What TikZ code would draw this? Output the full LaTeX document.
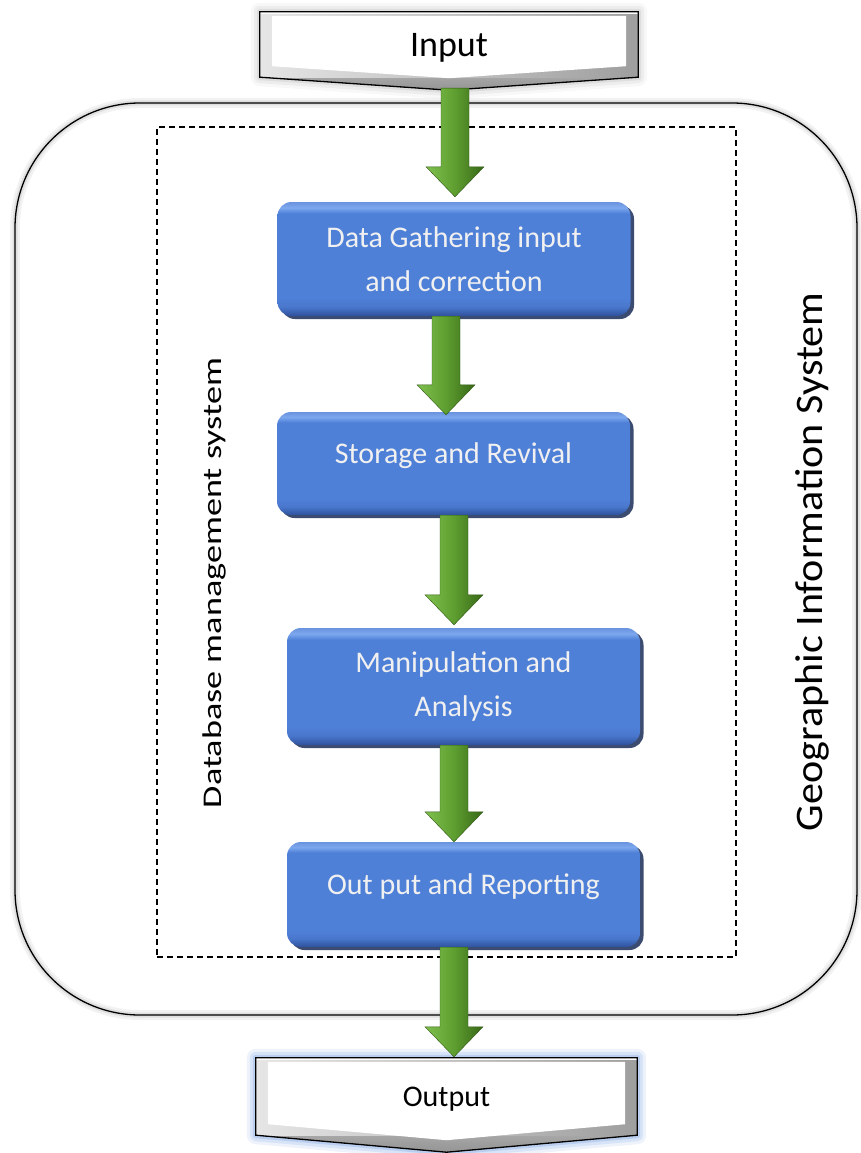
\documentclass[tikz,border=0pt]{standalone}
\usepackage{fontspec}
\setmainfont{Carlito}
\usepackage{graphicx}
\usetikzlibrary{calc,shadows}

\pgfdeclarelayer{back}
\pgfsetlayers{back,main}

\definecolor{boxblue}{HTML}{4F80D8}
\definecolor{boxbluehi}{HTML}{7DA8EE}
\definecolor{boxbluelo}{HTML}{2F519C}
\definecolor{boxbluedk}{HTML}{1A2C58}
\definecolor{arrgreenhi}{HTML}{80C04E}
\definecolor{arrgreen}{HTML}{5E9E30}
\definecolor{arrgreenlo}{HTML}{386818}
\definecolor{glowblue}{HTML}{5F8FE0}

% vertical bevel for the process boxes (path spans 25bp..75bp)
\pgfdeclareverticalshading{bluebevel}{100bp}{%
  color(0bp)=(boxbluelo); color(25bp)=(boxbluelo);
  color(29bp)=(boxblue!80!boxbluelo); color(33bp)=(boxblue);
  color(70bp)=(boxblue); color(72.5bp)=(boxbluehi);
  color(75bp)=(boxblue!85!white); color(100bp)=(boxblue)}

\tikzset{
  gisframe/.style={draw=black, line width=1.3pt, rounded corners=125pt,
    minimum width=842pt, minimum height=912pt, inner sep=0pt,
    preaction={draw=black, draw opacity=0.05, line width=10pt},
    preaction={draw=black, draw opacity=0.08, line width=5pt}},
  dbframe/.style={draw=black, line width=1.1pt, dash pattern=on 6pt off 4pt,
    minimum width=579pt, minimum height=830pt, inner sep=0pt},
  stagebox/.style={rounded corners=14pt, shading=bluebevel, minimum width=353pt,
    inner sep=0pt, text=white!94!black, align=center,
    font=\fontsize{30}{44}\selectfont,
    drop shadow={shadow xshift=3.5pt, shadow yshift=-3pt, fill=boxbluedk, opacity=0.85}},
  ioterm/.style={inner sep=0pt, text depth=0pt, text=black},
  sidelabel/.style={rotate=90, inner sep=0pt, text=black},
  arrowbody/.style={left color=arrgreenhi, right color=arrgreenlo, middle color=arrgreen,
    draw=arrgreenlo!85!black, line width=0.4pt, line join=miter},
}

% block arrow from #1 down to #2, its axis shifted by #3 from the x of #2
\newcommand\greenarrow[3]{%
  \path[arrowbody] let \p1=(#1), \p2=(#2) in
    (\x2+#3-14pt,\y1) -- (\x2+#3+14pt,\y1) -- (\x2+#3+14pt,\y2+30pt)
    -- (\x2+#3+29pt,\y2+30pt) -- (\x2+#3,\y2) -- (\x2+#3-29pt,\y2+30pt)
    -- (\x2+#3-14pt,\y2+30pt) -- cycle;
}

% bevelled off-page terminal drawn round node #1, point #2 below it,
% glow colour #3 with strength #4
\newcommand\iotermshape[4]{%
  \foreach \w/\o in {18/0.08, 12/0.12, 6/0.18} {
    \draw[#3, draw opacity=\o*#4, line width=\w pt, line join=round]
      (#1.north west) -- (#1.north east) -- (#1.south east)
      -- ([yshift=-#2]#1.south) -- (#1.south west) -- cycle;
  }
  \fill[top color=white, bottom color=black!42]
    (#1.north west) -- (#1.north east) -- (#1.south east)
    -- ([yshift=-#2]#1.south) -- (#1.south west) -- cycle;
  \fill[left color=black!10, right color=black!38]
    ([shift={(0pt,-3pt)}]#1.north west) -- ([shift={(0pt,-3pt)}]#1.north east)
    -- (#1.south east) -- (#1.south west) -- cycle;
  \fill[white]
    ([shift={(12pt,-4pt)}]#1.north west) -- ([shift={(-12pt,-4pt)}]#1.north east)
    -- ([shift={(-12pt,11pt)}]#1.south east) -- ([yshift=-#2+12pt]#1.south)
    -- ([shift={(12pt,11pt)}]#1.south west) -- cycle;
  \draw[black, line width=1.3pt, line join=miter]
    (#1.north west) -- (#1.north east) -- (#1.south east)
    -- ([yshift=-#2]#1.south) -- (#1.south west) -- cycle;
}

\begin{document}
\begin{tikzpicture}[x=1pt, y=-1pt]
\useasboundingbox (0,0) rectangle (860,1153);
\begin{pgfonlayer}{back}
  \fill[white] (0,0) rectangle (860,1153);
\end{pgfonlayer}

% frames
\node[gisframe] (gis) at (436,559) {};
\node[dbframe] (dbms) at (446.5,542) {};
\node[sidelabel, font=\fontsize{27}{27}\selectfont] (dbmslabel) at (214,583)
  {\scalebox{1.34}[1]{Database management system}};
\node[sidelabel, font=\fontsize{39}{39}\selectfont] (gislabel) at (812,562)
  {\scalebox{1.08}[1]{Geographic Information System}};

% terminals
\node[ioterm, minimum width=378pt, minimum height=65pt, font=\fontsize{36}{36}\selectfont]
  (in) at (449,44.5) {Input};
\node[ioterm, minimum width=381pt, minimum height=77pt, font=\fontsize{30}{30}\selectfont]
  (out) at (446.5,1096.5) {Output};

% process stages
\node[stagebox, minimum height=114pt] (b1) at (454,259) {Data Gathering input\\and correction};
\node[stagebox, minimum height=103pt, text depth=20pt] (b2) at (453.5,463.5) {Storage and Revival};
\node[stagebox, minimum height=117pt] (b3) at (463.5,686.5) {Manipulation and\\Analysis};
\node[stagebox, minimum height=105pt, text depth=21pt] (b4) at (463.5,894.5) {Out put and Reporting};

\begin{pgfonlayer}{back}
  \iotermshape{in}{13pt}{black}{0.35}
  \iotermshape{out}{17pt}{glowblue}{1.3}
\end{pgfonlayer}

% flow arrows
\greenarrow{[yshift=-11pt]in.south}{[yshift=5pt]b1.north}{1pt}
\greenarrow{b1.south}{[yshift=-3pt]b2.north}{-7.5pt}
\greenarrow{b2.south}{[yshift=3pt]b3.north}{-9.5pt}
\greenarrow{b3.south}{b4.north}{-9.5pt}
\greenarrow{b4.south}{[yshift=1pt]out.north}{7.5pt}
\end{tikzpicture}
\end{document}
